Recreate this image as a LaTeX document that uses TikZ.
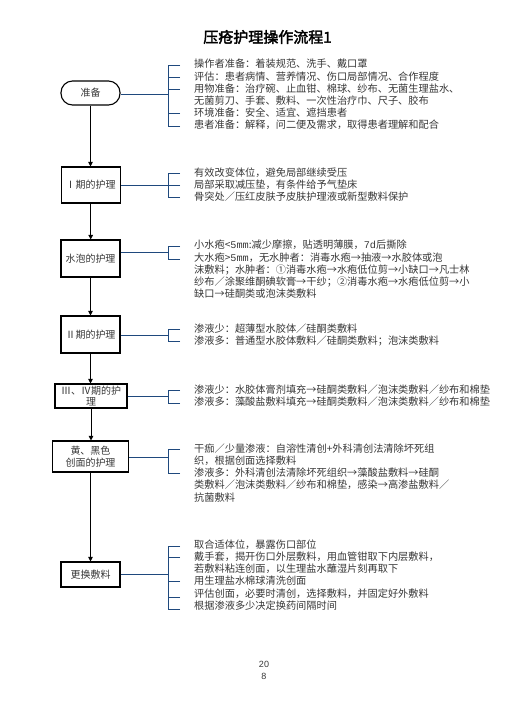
\documentclass[tikz,border=0pt]{standalone}
\usepackage{fontspec}
\usetikzlibrary{arrows.meta}
\newfontfamily\cjk{Noto Sans CJK SC}
\newfontfamily\cjkbf[FakeBold=2.5]{Noto Sans CJK SC}
\newfontfamily\pnfont{Liberation Sans}
\newfontfamily\monof{Liberation Mono}
\definecolor{brkc}{RGB}{31,73,125}
\definecolor{txt}{RGB}{55,55,55}
\tikzset{
  stepbox/.style={draw=black, line width=1.1pt, minimum width=59pt, inner sep=1pt,
    font={\cjk\fontsize{10}{12.8}\selectfont}, text=txt, align=center},
  item/.style={anchor=west, inner sep=0pt, font={\cjk\fontsize{10.2}{12}\selectfont}, text=txt},
  brk/.style={draw=brkc, line width=0.9pt},
  flow/.style={draw=black, line width=0.9pt, -{Triangle[length=4.5pt,width=4.5pt]}},
}
\begin{document}
\begin{tikzpicture}[x=1pt,y=-1pt]
\useasboundingbox (0,0) rectangle (504,713);

% title
\node[font={\cjkbf\fontsize{15}{18}\selectfont}, text=black] (title) at (267.5,37) {压疮护理操作流程1};

% boxes
\node[stepbox, rounded corners=11.5pt, minimum height=24pt] (prep) at (90.5,93) {准备};
\node[stepbox, minimum height=36pt] (s1) at (90.7,185) {Ⅰ期的护理};
\node[stepbox, minimum height=37pt] (s2) at (90.5,258.5) {水泡的护理};
\node[stepbox, minimum height=37pt] (s3) at (90.5,334.5) {Ⅱ期的护理};
\node[stepbox, minimum width=72pt, minimum height=24pt, inner sep=0pt] (s4) at (91,396) {Ⅲ、Ⅳ期的护\\[-1pt]理};
\node[stepbox, minimum width=75.5pt, minimum height=31pt, inner sep=0pt] (s5) at (90.5,456.5) {黄、黑色\\[-0.5pt]创面的护理};
\node[stepbox, minimum height=25pt] (s6) at (90.5,574.5) {更换敷料};

% flow arrows
\draw[flow] (prep.south) -- (prep.south |- s1.north);
\draw[flow] (s1.south) -- (s1.south |- s2.north);
\draw[flow] (s2.south) -- (s2.south |- s3.north);
\draw[flow] (s3.south) -- (s3.south |- s4.north);
\draw[flow] (s4.south) -- (s4.south |- s5.north);
\draw[flow] (s5.south) -- (s5.south |- s6.north);

% group 1: 准备
\node[item] (a1) at (194,64) {操作者准备：着装规范、洗手、戴口罩};
\node[item] (a2) at (194,77) {评估：患者病情、营养情况、伤口局部情况、合作程度};
\node[item] (a3) at (194,89) {用物准备：治疗碗、止血钳、棉球、纱布、无菌生理盐水、};
\node[item] (a4) at (194,101) {无菌剪刀、手套、敷料、一次性治疗巾、尺子、胶布};
\node[item] (a5) at (194,113) {环境准备：安全、适宜、遮挡患者};
\node[item] (a6) at (194,125) {患者准备：解释，问二便及需求，取得患者理解和配合};
\coordinate (j1) at (168,94);
\coordinate (t1a) at (180,65);
\coordinate (t1b) at (180,77);
\coordinate (t1c) at (180,89);
\coordinate (t1d) at (180,113);
\coordinate (t1e) at (180,126);
\draw[brk] (prep.east |- j1) -- (j1);
\foreach \t in {t1a,t1b,t1c,t1d,t1e} \draw[brk] (\t) -| (j1);

% group 2: I
\node[item] (b1) at (194,173) {有效改变体位，避免局部继续受压};
\node[item] (b2) at (194,185) {局部采取减压垫，有条件给予气垫床};
\node[item] (b3) at (194,197) {骨突处／压红皮肤予皮肤护理液或新型敷料保护};
\coordinate (j2) at (168,185);
\coordinate (t2a) at (180,173);
\coordinate (t2b) at (180,185);
\coordinate (t2c) at (180,197);
\draw[brk] (s1.east |- j2) -- (j2);
\foreach \t in {t2a,t2b,t2c} \draw[brk] (\t) -| (j2);

% group 3: blisters
\node[item] (c1) at (194,245) {小水疱<{\monof 5mm}:减少摩擦，贴透明薄膜，{\monof 7d}后撕除};
\node[item] (c2) at (194,258) {大水疱>{\monof 5mm}，无水肿者：消毒水疱→抽液→水胶体或泡};
\node[item] (c3) at (194,270) {沫敷料；水肿者：①消毒水疱→水疱低位剪→小缺口→凡士林};
\node[item] (c4) at (194,282) {纱布／涂聚维酮碘软膏→干纱；②消毒水疱→水疱低位剪→小};
\node[item] (c5) at (194,294) {缺口→硅酮类或泡沫类敷料};
\coordinate (j3) at (168,252);
\coordinate (t3a) at (180,246);
\coordinate (t3b) at (180,259);
\draw[brk] (s2.east |- j3) -- (j3);
\foreach \t in {t3a,t3b} \draw[brk] (\t) -| (j3);

% group 4: II
\node[item] (d1) at (194,329) {渗液少：超薄型水胶体／硅酮类敷料};
\node[item] (d2) at (194,341) {渗液多：普通型水胶体敷料／硅酮类敷料；泡沫类敷料};
\coordinate (j4) at (168,335.5);
\coordinate (t4a) at (180,329);
\coordinate (t4b) at (180,341);
\draw[brk] (s3.east |- j4) -- (j4);
\foreach \t in {t4a,t4b} \draw[brk] (\t) -| (j4);

% group 5: III IV
\node[item] (e1) at (194,390) {渗液少：水胶体膏剂填充→硅酮类敷料／泡沫类敷料／纱布和棉垫};
\node[item] (e2) at (194,402) {渗液多：藻酸盐敷料填充→硅酮类敷料／泡沫类敷料／纱布和棉垫};
\coordinate (j5) at (168,396.5);
\coordinate (t5a) at (180,390);
\coordinate (t5b) at (180,403);
\draw[brk] (s4.east |- j5) -- (j5);
\foreach \t in {t5a,t5b} \draw[brk] (\t) -| (j5);

% group 6: yellow/black
\node[item] (f1) at (194,449) {干痂／少量渗液：自溶性清创+外科清创法清除坏死组};
\node[item] (f2) at (194,461) {织，根据创面选择敷料};
\node[item] (f3) at (194,473) {渗液多：外科清创法清除坏死组织→藻酸盐敷料→硅酮};
\node[item] (f4) at (194,485) {类敷料／泡沫类敷料／纱布和棉垫，感染→高渗盐敷料／};
\node[item] (f5) at (194,497.5) {抗菌敷料};
\coordinate (j6) at (168,457);
\coordinate (t6a) at (180,449);
\coordinate (t6b) at (180,473);
\draw[brk] (s5.east |- j6) -- (j6);
\foreach \t in {t6a,t6b} \draw[brk] (\t) -| (j6);

% group 7: dressing change
\node[item] (g1) at (194,545) {取合适体位，暴露伤口部位};
\node[item] (g2) at (194,557) {戴手套，揭开伤口外层敷料，用血管钳取下内层敷料，};
\node[item] (g3) at (194,569) {若敷料粘连创面，以生理盐水蘸湿片刻再取下};
\node[item] (g4) at (194,581) {用生理盐水棉球清洗创面};
\node[item] (g5) at (194,594) {评估创面，必要时清创，选择敷料，并固定好外敷料};
\node[item] (g6) at (194,606) {根据渗液多少决定换药间隔时间};
\coordinate (j7) at (168,574);
\coordinate (t7a) at (180,546);
\coordinate (t7b) at (180,557);
\coordinate (t7c) at (180,581);
\coordinate (t7d) at (180,597);
\coordinate (t7e) at (180,609);
\draw[brk] (s6.east |- j7) -- (j7);
\foreach \t in {t7a,t7b,t7c,t7d,t7e} \draw[brk] (\t) -| (j7);

% page number
\node[font={\pnfont\fontsize{9}{11}\selectfont}, text=txt, inner sep=0pt] (pn1) at (264,664) {20};
\node[font={\pnfont\fontsize{9}{11}\selectfont}, text=txt, inner sep=0pt] (pn2) at (264,676) {8};
\end{tikzpicture}
\end{document}
